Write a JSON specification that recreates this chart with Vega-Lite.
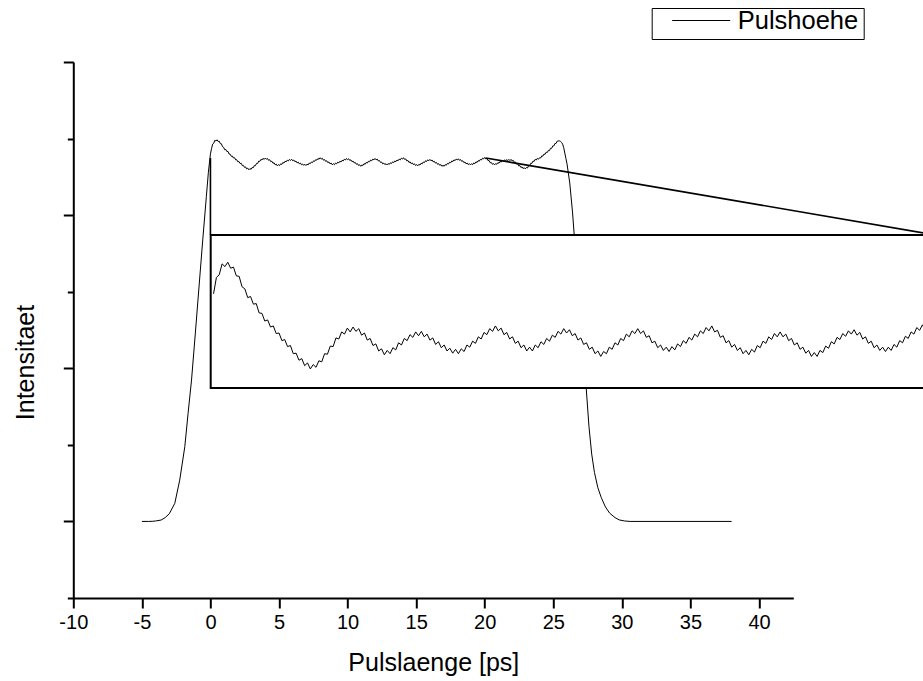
{
  "$schema": "https://vega.github.io/schema/vega-lite/v6.json",
  "width": 720,
  "height": 536,
  "autosize": {"type": "none"},
  "padding": {"left": 73.3, "top": 62, "right": 129.7, "bottom": 83},
  "background": "white",
  "config": {
    "view": {"stroke": null},
    "font": "Liberation Sans",
    "axis": {
      "grid": false,
      "domainColor": "black",
      "domainWidth": 2,
      "tickColor": "black",
      "tickWidth": 2,
      "labelColor": "black",
      "labelFont": "Liberation Sans",
      "titleColor": "black",
      "titleFont": "Liberation Sans",
      "titleFontWeight": "normal"
    }
  },
  "datasets": {
    "pulse": [
      {"ps": -5, "intensity": 0}, {"ps": -4.5, "intensity": 0}, {"ps": -4.2, "intensity": 0.1}, {"ps": -4.0, "intensity": 0.3},
      {"ps": -3.6, "intensity": 0.9}, {"ps": -3.3, "intensity": 2.5}, {"ps": -3.0, "intensity": 5.0}, {"ps": -2.6, "intensity": 11.8},
      {"ps": -2.24, "intensity": 27.0}, {"ps": -1.87, "intensity": 48.8}, {"ps": -1.63, "intensity": 70.6}, {"ps": -1.38, "intensity": 92.3},
      {"ps": -1.1, "intensity": 123}, {"ps": -0.8, "intensity": 157}, {"ps": -0.55, "intensity": 185}, {"ps": -0.3, "intensity": 212},
      {"ps": -0.15, "intensity": 228}, {"ps": -0.05, "intensity": 236}, {"ps": 0, "intensity": 240},
      {"ps": 0.08, "intensity": 243.4}, {"ps": 0.16, "intensity": 246.4}, {"ps": 0.24, "intensity": 246.9}, {"ps": 0.32, "intensity": 248.9},
      {"ps": 0.40, "intensity": 248.4}, {"ps": 0.48, "intensity": 249.2}, {"ps": 0.56, "intensity": 248.1}, {"ps": 0.64, "intensity": 248.3},
      {"ps": 0.72, "intensity": 246.7}, {"ps": 0.80, "intensity": 246.6}, {"ps": 0.88, "intensity": 244.7}, {"ps": 0.96, "intensity": 244.3},
      {"ps": 1.04, "intensity": 242.7}, {"ps": 1.12, "intensity": 242.9}, {"ps": 1.20, "intensity": 241.5}, {"ps": 1.28, "intensity": 241.6},
      {"ps": 1.36, "intensity": 239.9}, {"ps": 1.44, "intensity": 239.8}, {"ps": 1.52, "intensity": 238.4}, {"ps": 1.60, "intensity": 238.6},
      {"ps": 1.68, "intensity": 237.3}, {"ps": 1.76, "intensity": 237.5}, {"ps": 1.84, "intensity": 236.1}, {"ps": 1.92, "intensity": 236.2},
      {"ps": 2.00, "intensity": 234.8}, {"ps": 2.08, "intensity": 235.0}, {"ps": 2.16, "intensity": 233.7}, {"ps": 2.24, "intensity": 233.9},
      {"ps": 2.32, "intensity": 232.4}, {"ps": 2.40, "intensity": 232.5}, {"ps": 2.48, "intensity": 231.2}, {"ps": 2.56, "intensity": 231.5},
      {"ps": 2.64, "intensity": 230.2}, {"ps": 2.72, "intensity": 230.7}, {"ps": 2.80, "intensity": 229.6}, {"ps": 2.88, "intensity": 230.4},
      {"ps": 2.96, "intensity": 229.9}, {"ps": 3.04, "intensity": 231.1}, {"ps": 3.12, "intensity": 230.9}, {"ps": 3.20, "intensity": 232.4},
      {"ps": 3.28, "intensity": 232.3}, {"ps": 3.36, "intensity": 233.8}, {"ps": 3.44, "intensity": 233.7}, {"ps": 3.52, "intensity": 235.3},
      {"ps": 3.60, "intensity": 235.1}, {"ps": 3.68, "intensity": 236.4}, {"ps": 3.76, "intensity": 236.0}, {"ps": 3.84, "intensity": 237.1},
      {"ps": 3.92, "intensity": 236.4}, {"ps": 4.00, "intensity": 237.3}, {"ps": 4.08, "intensity": 236.5}, {"ps": 4.16, "intensity": 237.0},
      {"ps": 4.24, "intensity": 235.8}, {"ps": 4.32, "intensity": 236.2}, {"ps": 4.40, "intensity": 234.9}, {"ps": 4.48, "intensity": 235.2},
      {"ps": 4.56, "intensity": 233.9}, {"ps": 4.64, "intensity": 234.2}, {"ps": 4.72, "intensity": 232.9}, {"ps": 4.80, "intensity": 233.3},
      {"ps": 4.88, "intensity": 232.2}, {"ps": 4.96, "intensity": 233.0}, {"ps": 5.04, "intensity": 232.4}, {"ps": 5.12, "intensity": 233.5},
      {"ps": 5.20, "intensity": 233.1}, {"ps": 5.28, "intensity": 234.4}, {"ps": 5.36, "intensity": 234.0}, {"ps": 5.44, "intensity": 235.2},
      {"ps": 5.52, "intensity": 234.8}, {"ps": 5.60, "intensity": 235.9}, {"ps": 5.68, "intensity": 235.4}, {"ps": 5.76, "intensity": 236.4},
      {"ps": 5.84, "intensity": 235.7}, {"ps": 5.92, "intensity": 236.5}, {"ps": 6.00, "intensity": 235.5}, {"ps": 6.08, "intensity": 236.0},
      {"ps": 6.16, "intensity": 234.9}, {"ps": 6.24, "intensity": 235.3}, {"ps": 6.32, "intensity": 234.1}, {"ps": 6.40, "intensity": 234.6},
      {"ps": 6.48, "intensity": 233.5}, {"ps": 6.56, "intensity": 234.0}, {"ps": 6.64, "intensity": 232.9}, {"ps": 6.72, "intensity": 233.4},
      {"ps": 6.80, "intensity": 232.5}, {"ps": 6.88, "intensity": 233.2}, {"ps": 6.96, "intensity": 232.4}, {"ps": 7.04, "intensity": 233.3},
      {"ps": 7.12, "intensity": 232.8}, {"ps": 7.20, "intensity": 234.0}, {"ps": 7.28, "intensity": 233.6}, {"ps": 7.36, "intensity": 234.7},
      {"ps": 7.44, "intensity": 234.3}, {"ps": 7.52, "intensity": 235.5}, {"ps": 7.60, "intensity": 235.1}, {"ps": 7.68, "intensity": 236.3},
      {"ps": 7.76, "intensity": 235.9}, {"ps": 7.84, "intensity": 237.0}, {"ps": 7.92, "intensity": 236.5}, {"ps": 8.00, "intensity": 237.5},
      {"ps": 8.08, "intensity": 236.6}, {"ps": 8.16, "intensity": 237.1}, {"ps": 8.24, "intensity": 235.9}, {"ps": 8.32, "intensity": 236.3},
      {"ps": 8.40, "intensity": 235.1}, {"ps": 8.48, "intensity": 235.5}, {"ps": 8.56, "intensity": 234.3}, {"ps": 8.64, "intensity": 234.7},
      {"ps": 8.72, "intensity": 233.5}, {"ps": 8.80, "intensity": 234.0}, {"ps": 8.88, "intensity": 232.9}, {"ps": 8.96, "intensity": 233.6},
      {"ps": 9.04, "intensity": 232.9}, {"ps": 9.12, "intensity": 234.0}, {"ps": 9.20, "intensity": 233.5}, {"ps": 9.28, "intensity": 234.6},
      {"ps": 9.36, "intensity": 234.1}, {"ps": 9.44, "intensity": 235.2}, {"ps": 9.52, "intensity": 234.7}, {"ps": 9.60, "intensity": 235.8},
      {"ps": 9.68, "intensity": 235.4}, {"ps": 9.76, "intensity": 236.5}, {"ps": 9.84, "intensity": 236.0}, {"ps": 9.92, "intensity": 237.0},
      {"ps": 10.00, "intensity": 236.2}, {"ps": 10.08, "intensity": 236.8}, {"ps": 10.16, "intensity": 235.7}, {"ps": 10.24, "intensity": 236.1},
      {"ps": 10.32, "intensity": 234.9}, {"ps": 10.40, "intensity": 235.3}, {"ps": 10.48, "intensity": 234.1}, {"ps": 10.56, "intensity": 234.4},
      {"ps": 10.64, "intensity": 233.2}, {"ps": 10.72, "intensity": 233.6}, {"ps": 10.80, "intensity": 232.4}, {"ps": 10.88, "intensity": 232.9},
      {"ps": 10.96, "intensity": 231.9}, {"ps": 11.04, "intensity": 232.8}, {"ps": 11.12, "intensity": 232.4}, {"ps": 11.20, "intensity": 233.6},
      {"ps": 11.28, "intensity": 233.2}, {"ps": 11.36, "intensity": 234.4}, {"ps": 11.44, "intensity": 234.0}, {"ps": 11.52, "intensity": 235.2},
      {"ps": 11.60, "intensity": 234.8}, {"ps": 11.68, "intensity": 236.0}, {"ps": 11.76, "intensity": 235.5}, {"ps": 11.84, "intensity": 236.6},
      {"ps": 11.92, "intensity": 236.1}, {"ps": 12.00, "intensity": 237.0}, {"ps": 12.08, "intensity": 236.1}, {"ps": 12.16, "intensity": 236.6},
      {"ps": 12.24, "intensity": 235.4}, {"ps": 12.32, "intensity": 235.7}, {"ps": 12.40, "intensity": 234.4}, {"ps": 12.48, "intensity": 234.7},
      {"ps": 12.56, "intensity": 233.5}, {"ps": 12.64, "intensity": 234.0}, {"ps": 12.72, "intensity": 233.0}, {"ps": 12.80, "intensity": 233.6},
      {"ps": 12.88, "intensity": 232.8}, {"ps": 12.96, "intensity": 233.7}, {"ps": 13.04, "intensity": 233.1}, {"ps": 13.12, "intensity": 234.2},
      {"ps": 13.20, "intensity": 233.7}, {"ps": 13.28, "intensity": 234.8}, {"ps": 13.36, "intensity": 234.3}, {"ps": 13.44, "intensity": 235.4},
      {"ps": 13.52, "intensity": 234.9}, {"ps": 13.60, "intensity": 236.0}, {"ps": 13.68, "intensity": 235.5}, {"ps": 13.76, "intensity": 236.6},
      {"ps": 13.84, "intensity": 236.1}, {"ps": 13.92, "intensity": 237.2}, {"ps": 14.00, "intensity": 236.6}, {"ps": 14.08, "intensity": 237.5},
      {"ps": 14.16, "intensity": 236.4}, {"ps": 14.24, "intensity": 236.7}, {"ps": 14.32, "intensity": 235.4}, {"ps": 14.40, "intensity": 235.7},
      {"ps": 14.48, "intensity": 234.4}, {"ps": 14.56, "intensity": 234.8}, {"ps": 14.64, "intensity": 233.6}, {"ps": 14.72, "intensity": 234.1},
      {"ps": 14.80, "intensity": 233.0}, {"ps": 14.88, "intensity": 233.5}, {"ps": 14.96, "intensity": 232.4}, {"ps": 15.04, "intensity": 233.0},
      {"ps": 15.12, "intensity": 232.2}, {"ps": 15.20, "intensity": 233.2}, {"ps": 15.28, "intensity": 232.7}, {"ps": 15.36, "intensity": 233.9},
      {"ps": 15.44, "intensity": 233.5}, {"ps": 15.52, "intensity": 234.7}, {"ps": 15.60, "intensity": 234.3}, {"ps": 15.68, "intensity": 235.5},
      {"ps": 15.76, "intensity": 235.0}, {"ps": 15.84, "intensity": 236.1}, {"ps": 15.92, "intensity": 235.5}, {"ps": 16.00, "intensity": 236.4},
      {"ps": 16.08, "intensity": 235.5}, {"ps": 16.16, "intensity": 236.0}, {"ps": 16.24, "intensity": 234.8}, {"ps": 16.32, "intensity": 235.2},
      {"ps": 16.40, "intensity": 234.0}, {"ps": 16.48, "intensity": 234.4}, {"ps": 16.56, "intensity": 233.2}, {"ps": 16.64, "intensity": 233.6},
      {"ps": 16.72, "intensity": 232.5}, {"ps": 16.80, "intensity": 233.0}, {"ps": 16.88, "intensity": 231.9}, {"ps": 16.96, "intensity": 232.6},
      {"ps": 17.04, "intensity": 231.9}, {"ps": 17.12, "intensity": 233.0}, {"ps": 17.20, "intensity": 232.6}, {"ps": 17.28, "intensity": 233.8},
      {"ps": 17.36, "intensity": 233.4}, {"ps": 17.44, "intensity": 234.6}, {"ps": 17.52, "intensity": 234.2}, {"ps": 17.60, "intensity": 235.4},
      {"ps": 17.68, "intensity": 235.0}, {"ps": 17.76, "intensity": 236.1}, {"ps": 17.84, "intensity": 235.6}, {"ps": 17.92, "intensity": 236.6},
      {"ps": 18.00, "intensity": 236.0}, {"ps": 18.08, "intensity": 236.8}, {"ps": 18.16, "intensity": 235.8}, {"ps": 18.24, "intensity": 236.3},
      {"ps": 18.32, "intensity": 235.1}, {"ps": 18.40, "intensity": 235.5}, {"ps": 18.48, "intensity": 234.3}, {"ps": 18.56, "intensity": 234.7},
      {"ps": 18.64, "intensity": 233.5}, {"ps": 18.72, "intensity": 234.0}, {"ps": 18.80, "intensity": 233.0}, {"ps": 18.88, "intensity": 233.6},
      {"ps": 18.96, "intensity": 232.8}, {"ps": 19.04, "intensity": 233.6}, {"ps": 19.12, "intensity": 233.0}, {"ps": 19.20, "intensity": 234.1},
      {"ps": 19.28, "intensity": 233.6}, {"ps": 19.36, "intensity": 234.8}, {"ps": 19.44, "intensity": 234.4}, {"ps": 19.52, "intensity": 235.6},
      {"ps": 19.60, "intensity": 235.2}, {"ps": 19.68, "intensity": 236.4}, {"ps": 19.76, "intensity": 236.0}, {"ps": 19.84, "intensity": 237.2},
      {"ps": 19.92, "intensity": 236.7}, {"ps": 20.00, "intensity": 237.7}, {"ps": 20.08, "intensity": 236.7}, {"ps": 20.16, "intensity": 237.0},
      {"ps": 20.24, "intensity": 235.6}, {"ps": 20.32, "intensity": 235.7}, {"ps": 20.40, "intensity": 234.2}, {"ps": 20.48, "intensity": 234.4},
      {"ps": 20.56, "intensity": 233.2}, {"ps": 20.64, "intensity": 233.7}, {"ps": 20.72, "intensity": 232.8}, {"ps": 20.80, "intensity": 233.7},
      {"ps": 20.88, "intensity": 233.2}, {"ps": 20.96, "intensity": 234.3}, {"ps": 21.04, "intensity": 233.9}, {"ps": 21.12, "intensity": 235.1},
      {"ps": 21.20, "intensity": 234.6}, {"ps": 21.28, "intensity": 235.7}, {"ps": 21.36, "intensity": 235.1}, {"ps": 21.44, "intensity": 236.1},
      {"ps": 21.52, "intensity": 235.4}, {"ps": 21.60, "intensity": 236.3}, {"ps": 21.68, "intensity": 235.6}, {"ps": 21.76, "intensity": 236.4},
      {"ps": 21.84, "intensity": 235.6}, {"ps": 21.92, "intensity": 236.4}, {"ps": 22.00, "intensity": 235.4}, {"ps": 22.08, "intensity": 235.8},
      {"ps": 22.16, "intensity": 234.5}, {"ps": 22.24, "intensity": 234.7}, {"ps": 22.32, "intensity": 233.3}, {"ps": 22.40, "intensity": 233.5},
      {"ps": 22.48, "intensity": 232.1}, {"ps": 22.56, "intensity": 232.4}, {"ps": 22.64, "intensity": 231.1}, {"ps": 22.72, "intensity": 231.5},
      {"ps": 22.80, "intensity": 230.4}, {"ps": 22.88, "intensity": 231.0}, {"ps": 22.96, "intensity": 230.2}, {"ps": 23.04, "intensity": 231.1},
      {"ps": 23.12, "intensity": 230.8}, {"ps": 23.20, "intensity": 232.3}, {"ps": 23.28, "intensity": 232.3}, {"ps": 23.36, "intensity": 233.9},
      {"ps": 23.44, "intensity": 233.8}, {"ps": 23.52, "intensity": 235.3}, {"ps": 23.60, "intensity": 235.1}, {"ps": 23.68, "intensity": 236.4},
      {"ps": 23.76, "intensity": 236.0}, {"ps": 23.84, "intensity": 237.1}, {"ps": 23.92, "intensity": 236.5}, {"ps": 24.00, "intensity": 237.5},
      {"ps": 24.08, "intensity": 237.3}, {"ps": 24.16, "intensity": 238.7}, {"ps": 24.24, "intensity": 238.5}, {"ps": 24.32, "intensity": 239.9},
      {"ps": 24.40, "intensity": 239.7}, {"ps": 24.48, "intensity": 241.1}, {"ps": 24.56, "intensity": 240.9}, {"ps": 24.64, "intensity": 242.3},
      {"ps": 24.72, "intensity": 242.1}, {"ps": 24.80, "intensity": 243.7}, {"ps": 24.88, "intensity": 243.6}, {"ps": 24.96, "intensity": 245.2},
      {"ps": 25.04, "intensity": 245.2}, {"ps": 25.12, "intensity": 246.8}, {"ps": 25.20, "intensity": 246.8}, {"ps": 25.28, "intensity": 248.3},
      {"ps": 25.36, "intensity": 248.4}, {"ps": 25.44, "intensity": 248.5}, {"ps": 25.52, "intensity": 248.2}, {"ps": 25.60, "intensity": 247.5},
      {"ps": 25.68, "intensity": 246.4}, {"ps": 25.76, "intensity": 244.0}, {"ps": 25.84, "intensity": 240.5}, {"ps": 25.92, "intensity": 237.0},
      {"ps": 26.0, "intensity": 233.5}, {"ps": 26.2, "intensity": 221}, {"ps": 26.4, "intensity": 202}, {"ps": 26.6, "intensity": 178},
      {"ps": 26.8, "intensity": 155}, {"ps": 27.0, "intensity": 132}, {"ps": 27.2, "intensity": 110}, {"ps": 27.4, "intensity": 87},
      {"ps": 27.6, "intensity": 62}, {"ps": 27.8, "intensity": 44}, {"ps": 28.0, "intensity": 32}, {"ps": 28.25, "intensity": 22},
      {"ps": 28.5, "intensity": 15.5}, {"ps": 28.8, "intensity": 9.5}, {"ps": 29.1, "intensity": 5.5}, {"ps": 29.5, "intensity": 2.5},
      {"ps": 29.8, "intensity": 1.0}, {"ps": 30.2, "intensity": 0.3}, {"ps": 30.6, "intensity": 0}, {"ps": 38, "intensity": 0}
    ],
    "connectors": [
      {"ps": 0, "intensity": 237.3, "ps_end": 0, "intensity_end": 187.0},
      {"ps": 20.07, "intensity": 237.3, "ps_end": 52.9, "intensity_end": 187.0}
    ],
    "zoomWindow": [
      {"ps_from": 0, "ps_to": 20.4, "intensity_from": 226.1, "intensity_to": 254.2}
    ]
  },
  "resolve": {"scale": {"x": "independent", "y": "independent"}, "axis": {"x": "independent", "y": "independent"}},
  "layer": [
    {
      "layer": [
        {
          "data": {"name": "pulse"},
          "mark": {"type": "line", "strokeWidth": 1, "interpolate": "linear"},
          "encoding": {
            "x": {
              "field": "ps",
              "type": "quantitative",
              "scale": {"domain": [-10, 42.5], "nice": false, "zero": false},
              "axis": {
                "title": "Pulslaenge [ps]",
                "titleFontSize": 25,
                "titleY": 64,
                "titleBaseline": "middle",
                "values": [-10, -7.5, -5, -2.5, 0, 2.5, 5, 7.5, 10, 12.5, 15, 17.5, 20, 22.5, 25, 27.5, 30, 32.5, 35, 37.5, 40, 42.5],
                "labelExpr": "datum.value % 5 === 0 ? '' + datum.value : ''",
                "labelFontSize": 20,
                "labelPadding": 4,
                "labelFlush": false,
                "labelOverlap": false,
                "tickSize": {"condition": {"test": "datum.value % 5 === 0", "value": 10}, "value": 6}
              }
            },
            "y": {
              "field": "intensity",
              "type": "quantitative",
              "scale": {"domain": [-50, 300], "nice": false, "zero": false},
              "axis": {
                "title": "Intensitaet",
                "titleFontSize": 25,
                "titleAngle": -90,
                "titleX": -48,
                "titleY": 300,
                "titleAlign": "center",
                "titleBaseline": "middle",
                "values": [-50, 0, 50, 100, 150, 200, 250, 300],
                "labels": false,
                "tickSize": {"condition": {"test": "datum.value % 100 === 0", "value": 10}, "value": 6}
              }
            },
            "stroke": {
              "datum": "Pulshoehe",
              "type": "nominal",
              "scale": {"range": ["#000000"]},
              "legend": {
                "title": null,
                "orient": "none",
                "legendX": 578.4,
                "legendY": -54,
                "strokeColor": "#000000",
                "fillColor": "#ffffff",
                "padding": 4.5,
                "clipHeight": 16,
                "symbolType": "stroke",
                "symbolSize": 3364,
                "symbolStrokeWidth": 1,
                "symbolStrokeColor": "#000000",
                "symbolOffset": 15.5,
                "labelOffset": 7,
                "labelFont": "Liberation Sans",
                "labelFontSize": 25.5,
                "labelColor": "#000000"
              }
            }
          }
        },
        {
          "data": {"name": "connectors"},
          "mark": {"type": "rule", "color": "#000000", "strokeWidth": 1.6},
          "encoding": {
            "x": {"field": "ps", "type": "quantitative"},
            "y": {"field": "intensity", "type": "quantitative"},
            "x2": {"field": "ps_end"},
            "y2": {"field": "intensity_end"}
          }
        }
      ]
    },
    {
      "layer": [
        {
          "data": {"name": "zoomWindow"},
          "mark": {"type": "rect", "fill": "#ffffff", "stroke": "#000000", "strokeWidth": 2},
          "encoding": {
            "x": {"field": "ps_from", "type": "quantitative", "scale": {"domain": [0, 20.4], "range": [137.4, 863.4], "nice": false, "zero": false}, "axis": null},
            "x2": {"field": "ps_to"},
            "y": {"field": "intensity_from", "type": "quantitative", "scale": {"domain": [226.1, 254.2], "range": [326, 173], "nice": false, "zero": false}, "axis": null},
            "y2": {"field": "intensity_to"}
          }
        },
        {
          "data": {"name": "pulse"},
          "transform": [{"filter": "datum.ps >= 0.08 && datum.ps <= 20.4"}],
          "mark": {"type": "line", "color": "#000000", "strokeWidth": 1},
          "encoding": {
            "x": {"field": "ps", "type": "quantitative", "scale": {"domain": [0, 20.4], "range": [137.4, 863.4], "nice": false, "zero": false}, "axis": null},
            "y": {"field": "intensity", "type": "quantitative", "scale": {"domain": [226.1, 254.2], "range": [326, 173], "nice": false, "zero": false}, "axis": null}
          }
        }
      ]
    }
  ]
}
